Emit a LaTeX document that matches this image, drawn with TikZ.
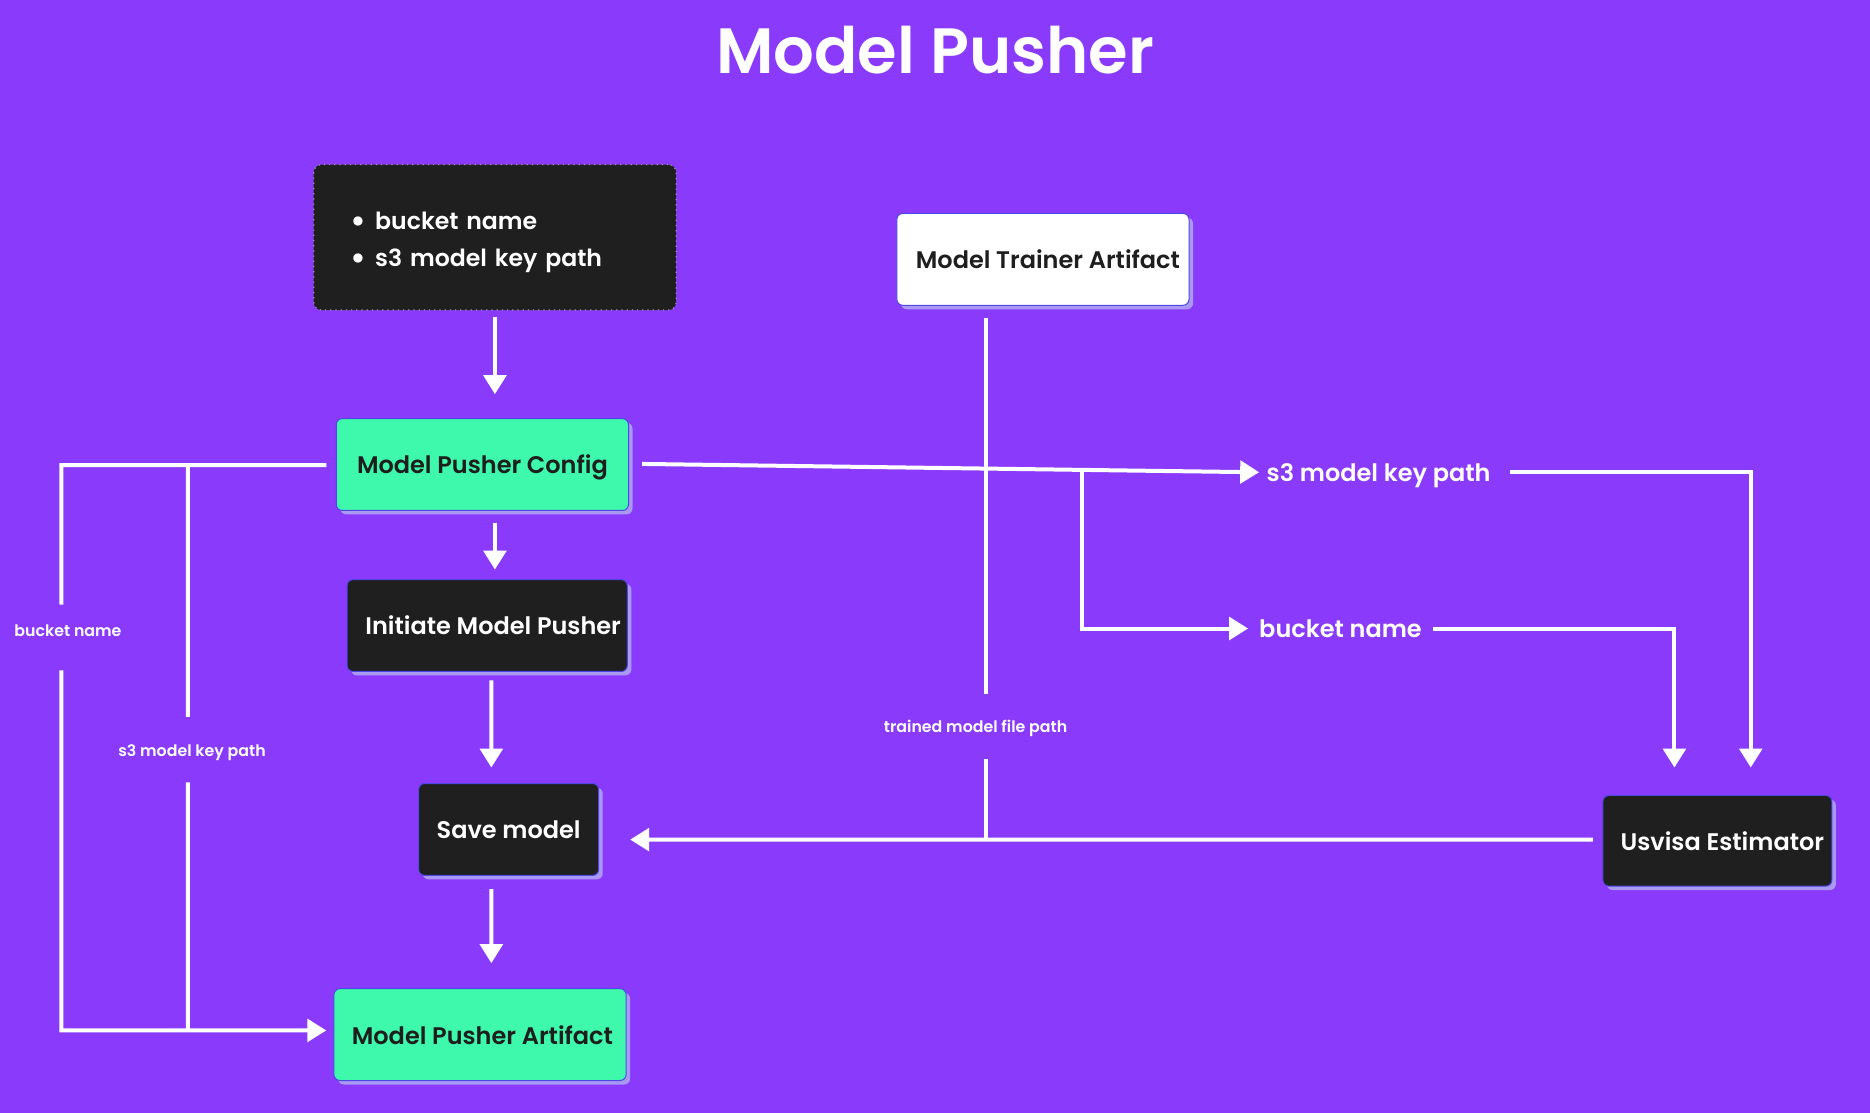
\documentclass[tikz,border=0pt]{standalone}
\usepackage{fontspec}
\setmainfont{Poppins}
\newfontfamily\popsb{Poppins SemiBold}
\newfontfamily\popmd{Poppins Medium}
\usetikzlibrary{arrows.meta,calc,shadows}
\definecolor{bgc}{HTML}{8A3AFA}
\definecolor{grn}{HTML}{3EF8AB}
\definecolor{drk}{HTML}{1F1F1F}
\definecolor{shd}{HTML}{A899F3}
\definecolor{bdr}{HTML}{5046E6}
\definecolor{txd}{HTML}{1E1E1E}
\newcommand\bigbul{\makebox[10.5pt][l]{\hspace{-1.8pt}\raisebox{-1.7pt}{\scalebox{1.4}{•}}}}
\begin{document}
\begin{tikzpicture}[x=0.5963pt,y=-0.5963pt,
  wire/.style={draw=white,line width=2pt},
  arr/.style={wire,-{Triangle[width=11.3pt,length=9.5pt]}},
  card/.style={rounded corners=3pt, draw=bdr, line width=0.5pt,
    minimum height=77*0.5963pt, inner sep=0pt, text depth=0pt,
    font=\popsb\fontsize{12}{15}\selectfont,
    general shadow={fill=shd,draw=none,shadow xshift=2pt,shadow yshift=-2pt}},
  gcard/.style={card, fill=grn, text=txd},
  dcard/.style={card, fill=drk, text=white},
  wcard/.style={card, fill=white, text=txd},
  topbox/.style={fill=drk, draw=gray!80, dotted, line width=0.6pt, rounded corners=4pt,
    minimum width=304*0.5963pt, minimum height=122*0.5963pt, inner sep=0pt},
  toptext/.style={text=white, align=left, text width=236*0.5963pt, inner sep=0pt,
    font=\popsb\fontsize{11.8}{18.5}\selectfont},
  lbl/.style={text=white, font=\popsb\fontsize{12}{15}\selectfont, inner sep=0pt, text depth=0pt},
  slbl/.style={text=white, font=\popsb\fontsize{7.9}{10}\selectfont, inner sep=0pt, text depth=0pt},
]
\fill[bgc] (0,0) rectangle (1568,933);
\useasboundingbox (0,0) rectangle (1568,933);

\node[text=white, font=\popsb\fontsize{32}{38}\selectfont] (title) at (784,42) {Model Pusher};

\node[topbox] (top) at (415,199) {};
\node[toptext] (toptxt) at (415,203) {\bigbul bucket name\\\bigbul s3 model key path};

\node[gcard, minimum width=245*0.5963pt] (cfg) at (404.5,389.5) {Model Pusher Config};
\node[dcard, minimum width=235*0.5963pt] (init) at (408.5,524.5) {\hspace{6pt}Initiate Model Pusher};
\node[dcard, minimum width=151*0.5963pt] (save) at (426.5,695.5) {Save model};
\node[gcard, minimum width=245*0.5963pt] (art) at (402.5,867.5) {\hspace{2.4pt}Model Pusher Artifact};
\node[wcard, minimum width=245*0.5963pt] (trn) at (874.5,217.5) {\hspace{5pt}Model Trainer Artifact};
\node[dcard, minimum width=192*0.5963pt, minimum height=76*0.5963pt] (usv) at (1440,705) {\hspace{5pt}Usvisa Estimator};

\node[slbl] (lbBN) at (57,529) {bucket name};
\node[slbl] (lbS3) at (161,629) {s3 model key path};
\node[slbl] (lbTM) at (818,609) {trained model file path};
\node[lbl] (lbS3r) at (1156,396) {s3 model key path};
\node[lbl] (lbBNr) at (1124,527) {bucket name};

\coordinate (jL) at (51.5,390);
\coordinate (jM) at (157.5,390);
\coordinate (bL) at (51.5,864);
\coordinate (bM) at (157.5,864);
\coordinate (jR) at (907,394);
\coordinate (cS3) at (1468,396);
\coordinate (cBN) at (1404,527);
\coordinate (jT) at (827,704);

% main column
\draw[arr] ($(top.south)+(0,5)$) -- ($(top.south)+(0,70)$);
\draw[arr] ($(cfg.south)+(10.5,10)$) -- ($(init.north)+(6.5,-8)$);
\draw[arr] ($(init.south)+(3.5,7)$) -- ($(save.north)+(-14.5,-13)$);
\draw[arr] ($(save.south)+(-14.5,11)$) -- ($(art.north)+(9.5,-21)$);

% left network
\draw[wire] ($(cfg.west)+(-8,0.5)$) -- (jL) -- ($(lbBN)+(-5.5,-22)$);
\draw[wire] (jM) -- ($(lbS3)+(-3.5,-28)$);
\draw[arr] ($(lbBN)+(-5.5,33)$) -- (bL) -- ($(art.west)+(-6,-3.5)$);
\draw[wire] ($(lbS3)+(-3.5,27)$) -- (bM);

% right network
\draw[arr] ($(cfg.east)+(11,-0.5)$) -- ($(lbS3r.west)+(-6,0)$);
\draw[arr] (jR) -- (jR |- lbBNr) -- ($(lbBNr.west)+(-9,0)$);
\draw[arr] ($(lbS3r.east)+(16,0)$) -- (cS3) -- ($(usv.north)+(28,-23)$);
\draw[arr] ($(lbBNr.east)+(9,0)$) -- (cBN) -- ($(usv.north)+(-36,-23)$);

% trainer and estimator
\draw[wire] ($(trn.south)+(-47.5,10)$) -- ($(lbTM)+(9,-27)$);
\draw[wire] ($(lbTM)+(9,27)$) -- (jT);
\draw[arr] ($(usv.west)+(-8,-1)$) -- ($(save.east)+(26,8.5)$);
\end{tikzpicture}
\end{document}
